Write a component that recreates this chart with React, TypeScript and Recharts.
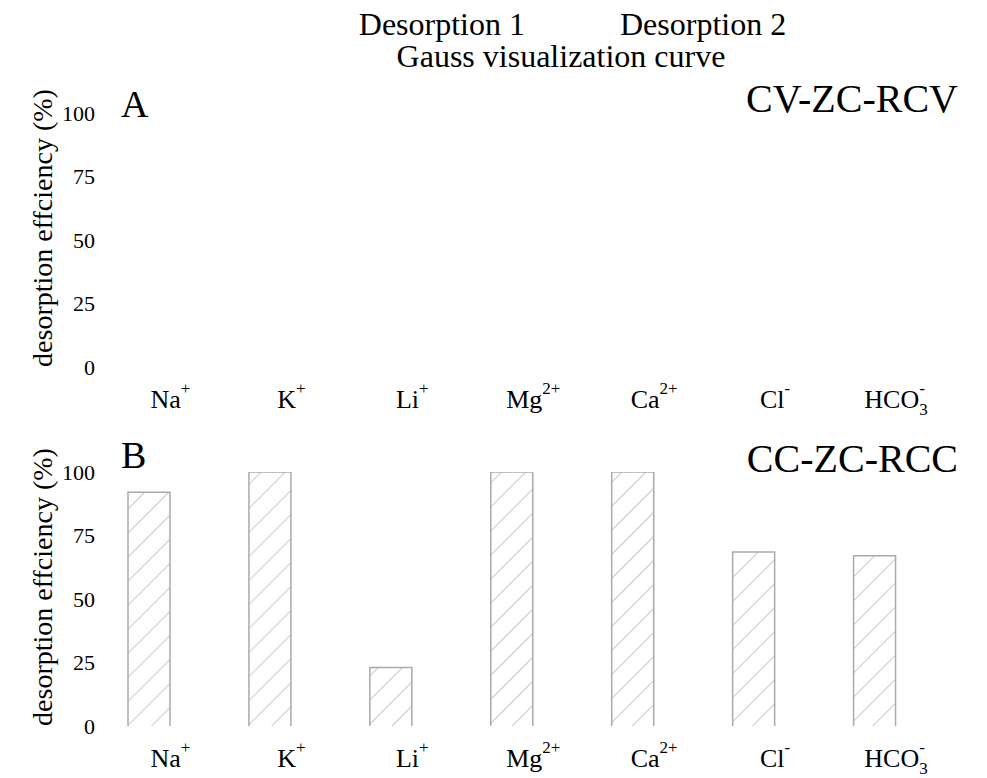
import { ComposedChart, Bar, Line, XAxis, YAxis, Legend, Customized } from "recharts";

const FONT = "'Liberation Serif', 'Times New Roman', serif";

// categories: base text, superscript charge, subscript
const ions = ["Na+", "K+", "Li+", "Mg2+", "Ca2+", "Cl-", "HCO3-"];
const ionBase = ["Na", "K", "Li", "Mg", "Ca", "Cl", "HCO"];
const ionSup = ["+", "+", "+", "2+", "2+", "-", "-"];
const ionSub = ["", "", "", "", "", "", "3"];

// panel A (CV-ZC-RCV) has no drawn values
const cvDesorption1 = [null, null, null, null, null, null, null];
const cvDesorption2 = [null, null, null, null, null, null, null];
const cvGauss = [null, null, null, null, null, null, null];

// panel B (CC-ZC-RCC)
const ccDesorption1 = [92, 100, 23, 100, 100, 68.5, 67];
const ccDesorption2 = [null, null, null, null, null, null, null];
const ccGauss = [null, null, null, null, null, null, null];

const yTicks = [0, 25, 50, 75, 100];

const cvData = ions.map((ion, i) => ({
  ion,
  d1: cvDesorption1[i],
  d2: cvDesorption2[i],
  gauss: cvGauss[i],
}));
const ccData = ions.map((ion, i) => ({
  ion,
  d1: ccDesorption1[i],
  d2: ccDesorption2[i],
  gauss: ccGauss[i],
}));

const IonTick = (props: any) => {
  const { x, y, payload } = props;
  const i = ions.indexOf(payload.value);
  return (
    <text x={x} y={y + 33} textAnchor="middle" style={{ fontFamily: FONT, fontSize: 26 }} fill="#000">
      {ionBase[i]}
      {ionSub[i] ? (
        <>
          <tspan dy={7} style={{ fontSize: 17 }}>{ionSub[i]}</tspan>
          <tspan dx={-8.5} dy={-21} style={{ fontSize: 17 }}>{ionSup[i]}</tspan>
        </>
      ) : (
        <tspan dy={-14} style={{ fontSize: 17 }}>{ionSup[i]}</tspan>
      )}
    </text>
  );
};

const ValueTick = (props: any) => {
  const { x, y, payload } = props;
  return (
    <text x={x} y={y} dy="0.35em" textAnchor="end" style={{ fontFamily: FONT, fontSize: 22 }} fill="#000">
      {payload.value}
    </text>
  );
};

const HatchBar = (props: any) => {
  const { x, y, width, height } = props;
  if (!height || height <= 0) return null;
  return (
    <g>
      <rect x={x} y={y} width={width} height={height} fill="url(#hatchB)" />
      <path
        d={`M${x},${y + height}V${y}H${x + width}V${y + height}`}
        fill="none"
        stroke="#aaa"
        strokeWidth={1.5}
      />
    </g>
  );
};

const LegendText = (props: any) => {
  const { payload } = props;
  return (
    <div
      style={{
        display: "flex",
        flexWrap: "wrap",
        justifyContent: "center",
        fontFamily: FONT,
        fontSize: 32,
        lineHeight: "32px",
        color: "#000",
      }}
    >
      {(payload || []).map((p: any) => (
        <span
          key={p.value}
          style={{ margin: "0 30px", paddingLeft: p.type === "line" ? 12 : 35, whiteSpace: "nowrap" }}
        >
          {p.value}
        </span>
      ))}
    </div>
  );
};

const PanelText = (label: string, name: string, labelY: number, nameY: number, axisMid: number) => () =>
  (
    <g style={{ fontFamily: FONT }} fill="#000">
      <defs>
        <pattern id="hatchB" patternUnits="userSpaceOnUse" width={17} height={17} patternTransform="rotate(45)">
          <line x1={0} y1={0} x2={0} y2={17} stroke="#999" strokeWidth={1.1} />
        </pattern>
      </defs>
      <text x={121} y={labelY} style={{ fontFamily: FONT, fontSize: 38 }}>{label}</text>
      <text x={958} y={nameY} style={{ fontFamily: FONT, fontSize: 40 }} textAnchor="end">{name}</text>
      <text
        x={42}
        y={axisMid}
        style={{ fontFamily: FONT, fontSize: 28 }}
        textAnchor="middle"
        dominantBaseline="central"
        transform={`rotate(-90, 42, ${axisMid})`}
      >
        desorption effciency (%)
      </text>
    </g>
  );

const PanelATexts = PanelText("A", "CV-ZC-RCV", 117, 112, 228);
const PanelBTexts = PanelText("B", "CC-ZC-RCC", 48, 52, 167);

export default function App() {
  return (
    <div
      style={{
        position: "absolute",
        left: 0,
        top: 0,
        width: 987,
        height: 778,
        background: "#fff",
        fontFamily: FONT,
      }}
    >
      <div style={{ position: "absolute", left: 0, top: 0 }}>
        <ComposedChart
          width={987}
          height={415}
          data={cvData}
          margin={{ top: 113, right: 30.5, left: 30, bottom: 0 }}
          barGap={0}
        >
          <XAxis dataKey="ion" axisLine={false} tickLine={false} height={48} interval={0} tick={<IonTick />} />
          <YAxis
            width={80}
            type="number"
            domain={[0, 100]}
            allowDataOverflow
            ticks={yTicks}
            axisLine={false}
            tickLine={false}
            tickMargin={9}
            tick={<ValueTick />}
          />
          <Legend
            layout="horizontal"
            verticalAlign="middle"
            align="center"
            wrapperStyle={{ top: 8, left: 290, width: 530 }}
            content={<LegendText />}
          />
          <Bar dataKey="d1" name="Desorption 1" barSize={42} shape={<HatchBar />} isAnimationActive={false} />
          <Bar dataKey="d2" name="Desorption 2" barSize={42} fill="#fff" isAnimationActive={false} />
          <Line dataKey="gauss" name="Gauss visualization curve" stroke="#000" dot={false} isAnimationActive={false} />
          <Customized component={PanelATexts} />
        </ComposedChart>
      </div>
      <div style={{ position: "absolute", left: 0, top: 420 }}>
        <ComposedChart
          width={987}
          height={356}
          data={ccData}
          margin={{ top: 52, right: 30.5, left: 30, bottom: 0 }}
          barGap={0}
        >
          <XAxis dataKey="ion" axisLine={false} tickLine={false} height={50} interval={0} tick={<IonTick />} />
          <YAxis
            width={80}
            type="number"
            domain={[0, 100]}
            allowDataOverflow
            ticks={yTicks}
            axisLine={false}
            tickLine={false}
            tickMargin={9}
            tick={<ValueTick />}
          />
          <Customized component={PanelBTexts} />
          <Bar dataKey="d1" name="Desorption 1" barSize={42} shape={<HatchBar />} isAnimationActive={false} />
          <Bar dataKey="d2" name="Desorption 2" barSize={42} fill="#fff" isAnimationActive={false} />
          <Line dataKey="gauss" name="Gauss visualization curve" stroke="#000" dot={false} isAnimationActive={false} />
        </ComposedChart>
      </div>
    </div>
  );
}
